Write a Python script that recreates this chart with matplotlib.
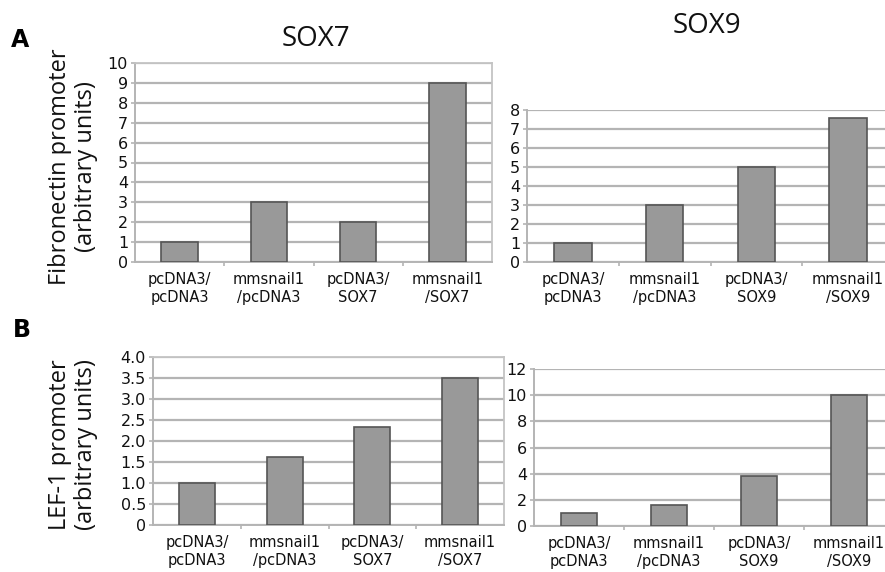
import matplotlib
matplotlib.use("Agg")
import matplotlib.pyplot as plt
import numpy as np

# Constructs transfected in each experiment
sox7_groups = ["pcDNA3/\npcDNA3", "mmsnail1\n/pcDNA3", "pcDNA3/\nSOX7", "mmsnail1\n/SOX7"]
sox9_groups = ["pcDNA3/\npcDNA3", "mmsnail1\n/pcDNA3", "pcDNA3/\nSOX9", "mmsnail1\n/SOX9"]

# Promoter activity (arbitrary units)
fn_sox7 = [1, 3, 2, 9]
fn_sox9 = [1, 3, 5, 7.6]
lef_sox7 = [1.0, 1.62, 2.33, 3.5]
lef_sox9 = [1.0, 1.6, 3.8, 10.0]

# Y-axis ticks for each panel
fn_sox7_ticks = list(range(0, 11))
fn_sox9_ticks = list(range(0, 9))
lef_sox7_ticks = [0, 0.5, 1.0, 1.5, 2.0, 2.5, 3.0, 3.5, 4.0]
lef_sox7_ticklabels = ["0", "0.5", "1.0", "1.5", "2.0", "2.5", "3.0", "3.5", "4.0"]
lef_sox9_ticks = [0, 2, 4, 6, 8, 10, 12]

W, H = 885, 572
fig = plt.figure(figsize=(W / 100, H / 100), dpi=100)

GRID = "#b4b4b4"
BAR = "#999999"
EDGE = "#555555"
TXT = "#111111"


def px_axes(left, right, top, bottom):
    return fig.add_axes([left / W, 1 - bottom / H, (right - left) / W, (bottom - top) / H])


def panel(ax, labels, values, ticks, ticklabels=None, box=True):
    n = len(labels)
    x = np.arange(n)
    ax.bar(x, values, width=0.41, color=BAR, edgecolor=EDGE, linewidth=1.2, zorder=3)
    ax.set_xlim(-0.5, n - 0.5)
    ax.set_ylim(ticks[0], ticks[-1])
    ax.set_yticks(ticks)
    ax.set_yticklabels(ticklabels if ticklabels else [str(t) for t in ticks],
                       fontsize=11.5, color=TXT)
    ax.yaxis.grid(True, color=GRID, linewidth=1.6, zorder=0)
    ax.set_axisbelow(True)
    ax.set_xticks(x)
    ax.set_xticklabels(labels, fontsize=10.5, color=TXT, linespacing=1.3)
    ax.tick_params(axis="x", length=0, pad=7)
    ax.set_xticks(np.arange(n - 1) + 0.5, minor=True)
    ax.tick_params(axis="x", which="minor", length=3, color=GRID, width=1.2)
    ax.tick_params(axis="y", length=3, color=GRID, width=1.2, pad=2)
    for s in ["left", "bottom"]:
        ax.spines[s].set_color(GRID)
        ax.spines[s].set_linewidth(1.4)
    for s in ["top", "right"]:
        ax.spines[s].set_visible(box)
        ax.spines[s].set_color("#c4c4c4")
        ax.spines[s].set_linewidth(1.3)


ax1 = px_axes(135, 492, 63, 262)
panel(ax1, sox7_groups, fn_sox7, fn_sox7_ticks)

ax2 = px_axes(527, 894, 110, 262)
panel(ax2, sox9_groups, fn_sox9, fn_sox9_ticks, box=False)

ax3 = px_axes(153, 504, 357, 525)
panel(ax3, sox7_groups, lef_sox7, lef_sox7_ticks, lef_sox7_ticklabels)

ax4 = px_axes(534, 894, 369, 526)
panel(ax4, sox9_groups, lef_sox9, lef_sox9_ticks, box=False)

# Column headings
fig.text(316 / W, 1 - 39 / H, "SOX7", fontsize=20, family="Open Sans",
         ha="center", va="center", color=TXT)
fig.text(707 / W, 1 - 26 / H, "SOX9", fontsize=20, family="Open Sans",
         ha="center", va="center", color=TXT)

# Panel letters
fig.text(20 / W, 1 - 40 / H, "A", fontsize=17, fontweight="bold",
         ha="center", va="center", color="black")
fig.text(22 / W, 1 - 330 / H, "B", fontsize=17, fontweight="bold",
         ha="center", va="center", color="black")

# Row y-axis labels
fig.text(73 / W, 1 - 167 / H, "Fibronectin promoter\n(arbitrary units)", fontsize=17,
         family="Open Sans", rotation=90, ha="center", va="center",
         color=TXT, linespacing=1.1)
fig.text(73 / W, 1 - 445 / H, "LEF-1 promoter\n(arbitrary units)", fontsize=17,
         family="Open Sans", rotation=90, ha="center", va="center",
         color=TXT, linespacing=1.1)

fig.savefig("out.png", dpi=100, facecolor="white")
